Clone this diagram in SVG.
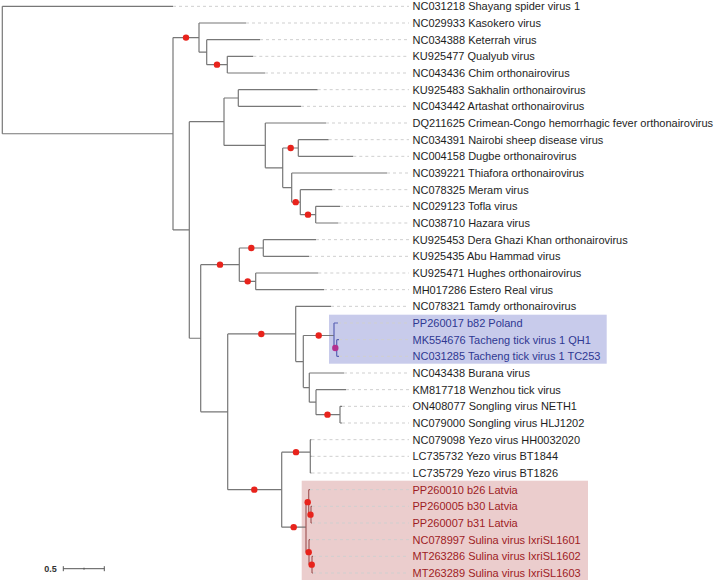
<svg xmlns="http://www.w3.org/2000/svg" width="716" height="582" viewBox="0 0 716 582">
<style>
.br{fill:none;stroke:#777;stroke-width:1.2}
.bb{fill:none;stroke:#5a62b4;stroke-width:1.2}
.brd{fill:none;stroke:#a45a5a;stroke-width:1.2}
.gd{fill:none;stroke:#cfcfcf;stroke-width:1;stroke-dasharray:3,3}
.lb{font-family:"Liberation Sans",Arial,sans-serif;font-size:11px;fill:#1e1e1e}
.lbb{fill:#2f3892}
.lbr{fill:#9e1c24}
.dot{fill:#e8231c}
</style>
<rect width="716" height="582" fill="#fff"/>
<rect id="hl-blue" x="329" y="314.7" width="277.7" height="49" fill="#c8cbeb"/>
<rect id="hl-red" x="301.7" y="480.7" width="286.3" height="99.3" fill="#ebcdcd"/>
<g id="connectors">
<path class="br" d="M2.3 6.33V133.77M2.3 6.33H173M2.3 133.77H173
M173 37.58V229.97M173 37.58H199M173 229.97H189.3
M199 23V52.17M199 23H246M199 52.17H206.7
M206.7 39.67V64.67M206.7 39.67H260M206.7 64.67H227.3
M227.3 56.33V73M227.3 56.33H253.3M227.3 73H265
M189.3 121.7V338.23M189.3 121.7H224M189.3 338.23H200.7
M224 98V145.4M224 98H238.3M224 145.4H265.3
M238.3 89.67V106.33M238.3 89.67H317.7M238.3 106.33H301
M265.3 123V167.79M265.3 123H326M265.3 167.79H282.7
M282.7 148V187.58M282.7 148H298.3M282.7 187.58H291.7
M298.3 139.67V156.33M298.3 139.67H328.7M298.3 156.33H353.3
M291.7 173V202.17M291.7 173H387M291.7 202.17H300.3
M300.3 189.67V214.67M300.3 189.67H332.3M300.3 214.67H315.7
M315.7 206.33V223M315.7 206.33H340M315.7 223H338.3
M200.7 264.67V411.8M200.7 264.67H239.3M200.7 411.8H227.7
M239.3 248V281.33M239.3 248H263.3M239.3 281.33H255.7
M263.3 239.67V256.33M263.3 239.67H316M263.3 256.33H309
M255.7 273V289.67M255.7 273H318.3M255.7 289.67H324
M227.7 333.94V489.67M227.7 333.94H295.7M227.7 489.67H281.7
M295.7 306.33V361.54M295.7 306.33H331M295.7 361.54H303.3
M303.3 335.5V387.58M303.3 335.5H334M303.3 387.58H309.3
M309.3 373V402.17M309.3 373H344M309.3 402.17H316
M316 389.67V414.67M316 389.67H346M316 414.67H340
M340 406.33V423M340 406.33H342M340 423H342
M281.7 452.17V527.17M281.7 452.17H310.3M281.7 527.17H306
M310.3 439.67V473M310.3 439.67H311.5M310.3 456.33H311.5M310.3 473H311.5"/>
<path class="bb" d="M334 323V348M334 323H338M334 348H336.7M336.7 339.67V356.33M336.7 339.67H339M336.7 356.33H339"/>
<path class="brd" d="M306 502.17V552.17M306 502.17H308.7M306 552.17H309
M308.7 489.67V514.67M308.7 489.67H310M308.7 514.67H311
M311 506.33V523M311 506.33H312M311 523H312
M309 539.67V564.67M309 539.67H310M309 564.67H312
M312 556.33V573M312 556.33H313M312 573H313"/>
<path class="gd" d="M173 6.33H409M246 23H409M260 39.67H409M253.3 56.33H409M265 73H409M317.7 89.67H409M301 106.33H409M326 123H409M328.7 139.67H409M353.3 156.33H409M387 173H409M332.3 189.67H409M340 206.33H409M338.3 223H409M316 239.67H409M309 256.33H409M318.3 273H409M324 289.67H409M331 306.33H409M338 323H409M339 339.67H409M339 356.33H409M344 373H409M346 389.67H409M342 406.33H409M342 423H409M311.5 439.67H409M311.5 456.33H409M311.5 473H409M310 489.67H409M312 506.33H409M312 523H409M310 539.67H409M313 556.33H409M313 573H409"/>
</g>
<g id="support">
<circle class="dot" cx="186" cy="37.58" r="3.2"/>
<circle class="dot" cx="217" cy="64.67" r="3.2"/>
<circle class="dot" cx="290.7" cy="148" r="3.2"/>
<circle class="dot" cx="295.7" cy="202.17" r="3.2"/>
<circle class="dot" cx="308" cy="214.67" r="3.2"/>
<circle class="dot" cx="220" cy="264.67" r="3.2"/>
<circle class="dot" cx="251.3" cy="248" r="3.2"/>
<circle class="dot" cx="247.7" cy="281.33" r="3.2"/>
<circle class="dot" cx="261.3" cy="333.94" r="3.2"/>
<circle class="dot" cx="318.7" cy="335.5" r="3.2"/>
<circle cx="335.3" cy="348" r="3.2" fill="#b3318f"/>
<circle class="dot" cx="327.5" cy="414.67" r="3.2"/>
<circle class="dot" cx="254.3" cy="489.67" r="3.2"/>
<circle class="dot" cx="296" cy="452.17" r="3.2"/>
<circle class="dot" cx="293.7" cy="527.17" r="3.2"/>
<circle class="dot" cx="307.7" cy="502.17" r="3.2"/>
<circle class="dot" cx="310.5" cy="514.67" r="3.2"/>
<circle class="dot" cx="308.7" cy="552.17" r="3.2"/>
<circle class="dot" cx="311.7" cy="564.67" r="3.2"/>
</g>
<g id="tips" class="lb">
<text id="t0" x="412.5" y="10.33">NC031218 Shayang spider virus 1</text>
<text id="t1" x="412.5" y="27">NC029933 Kasokero virus</text>
<text id="t2" x="412.5" y="43.67">NC034388 Keterrah virus</text>
<text id="t3" x="412.5" y="60.33">KU925477 Qualyub virus</text>
<text id="t4" x="412.5" y="77">NC043436 Chim orthonairovirus</text>
<text id="t5" x="412.5" y="93.67">KU925483 Sakhalin orthonairovirus</text>
<text id="t6" x="412.5" y="110.33">NC043442 Artashat orthonairovirus</text>
<text id="t7" x="412.5" y="127">DQ211625 Crimean-Congo hemorrhagic fever orthonairovirus</text>
<text id="t8" x="412.5" y="143.67">NC034391 Nairobi sheep disease virus</text>
<text id="t9" x="412.5" y="160.33">NC004158 Dugbe orthonairovirus</text>
<text id="t10" x="412.5" y="177">NC039221 Thiafora orthonairovirus</text>
<text id="t11" x="412.5" y="193.67">NC078325 Meram virus</text>
<text id="t12" x="412.5" y="210.33">NC029123 Tofla virus</text>
<text id="t13" x="412.5" y="227">NC038710 Hazara virus</text>
<text id="t14" x="412.5" y="243.67">KU925453 Dera Ghazi Khan orthonairovirus</text>
<text id="t15" x="412.5" y="260.33">KU925435 Abu Hammad virus</text>
<text id="t16" x="412.5" y="277">KU925471 Hughes orthonairovirus</text>
<text id="t17" x="412.5" y="293.67">MH017286 Estero Real virus</text>
<text id="t18" x="412.5" y="310.33">NC078321 Tamdy orthonairovirus</text>
<text id="t19" class="lb lbb" x="412.5" y="327">PP260017 b82 Poland</text>
<text id="t20" class="lb lbb" x="412.5" y="343.67">MK554676 Tacheng tick virus 1 QH1</text>
<text id="t21" class="lb lbb" x="412.5" y="360.33">NC031285 Tacheng tick virus 1 TC253</text>
<text id="t22" x="412.5" y="377">NC043438 Burana virus</text>
<text id="t23" x="412.5" y="393.67">KM817718 Wenzhou tick virus</text>
<text id="t24" x="412.5" y="410.33">ON408077 Songling virus NETH1</text>
<text id="t25" x="412.5" y="427">NC079000 Songling virus HLJ1202</text>
<text id="t26" x="412.5" y="443.67">NC079098 Yezo virus HH0032020</text>
<text id="t27" x="412.5" y="460.33">LC735732 Yezo virus BT1844</text>
<text id="t28" x="412.5" y="477">LC735729 Yezo virus BT1826</text>
<text id="t29" class="lb lbr" x="412.5" y="493.67">PP260010 b26 Latvia</text>
<text id="t30" class="lb lbr" x="412.5" y="510.33">PP260005 b30 Latvia</text>
<text id="t31" class="lb lbr" x="412.5" y="527">PP260007 b31 Latvia</text>
<text id="t32" class="lb lbr" x="412.5" y="543.67">NC078997 Sulina virus IxriSL1601</text>
<text id="t33" class="lb lbr" x="412.5" y="560.33">MT263286 Sulina virus IxriSL1602</text>
<text id="t34" class="lb lbr" x="412.5" y="577">MT263289 Sulina virus IxriSL1603</text>
</g>
<g id="scalebar">
<text x="44.3" y="572" font-family="Liberation Sans,Arial,sans-serif" font-size="9" font-weight="bold" fill="#333">0.5</text>
<path d="M63.3 568.7H104.3M63.3 566.2V571.2M104.3 566.2V571.2M84 567.7V569.7" fill="none" stroke="#555" stroke-width="1"/>
</g>
</svg>
